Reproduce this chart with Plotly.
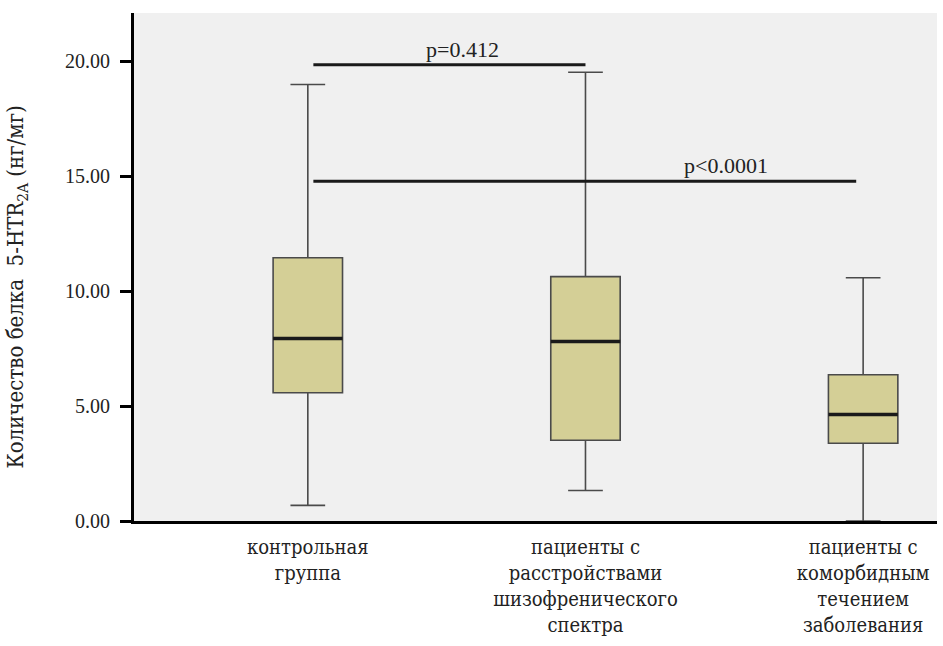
import plotly.graph_objects as go

categories = ["контрольная<br>группа",
              "пациенты с<br>расстройствами<br>шизофренического<br>спектра",
              "пациенты с<br>коморбидным<br>течением<br>заболевания"]
lowerfence = [0.68, 1.33, 0.0]
q1 = [5.58, 3.51, 3.38]
median = [7.94, 7.81, 4.63]
q3 = [11.45, 10.63, 6.36]
upperfence = [18.99, 19.52, 10.58]

yticks = [0, 5, 10, 15, 20]
brackets = [  # (from category index, to category index, y, label, label x)
    (0.02, 1.0, 19.85, "p=0.412", 0.557),
    (0.02, 1.975, 14.78, "p&lt;0.0001", 1.507),
]

FONT = "Liberation Serif"
CYR = "'DejaVu Serif Condensed', 'DejaVu Serif'"
BOXW = 0.25

fig = go.Figure()
fig.add_trace(go.Box(
    x=categories, q1=q1, median=median, q3=q3,
    lowerfence=lowerfence, upperfence=upperfence,
    width=BOXW, whiskerwidth=0.5,
    fillcolor="#d4cf96",
    line=dict(color="#4a4a4a", width=1.6),
    boxpoints=False, hoverinfo="skip", showlegend=False,
))

shapes = []
for i, m in enumerate(median):
    shapes.append(dict(type="line", xref="x", yref="y",
                       x0=i - BOXW / 2, x1=i + BOXW / 2, y0=m, y1=m,
                       line=dict(color="#1a1a1a", width=3.5)))
annotations = []
for x0, x1, y, label, lx in brackets:
    shapes.append(dict(type="line", xref="x", yref="y",
                       x0=x0, x1=x1, y0=y, y1=y,
                       line=dict(color="#1a1a1a", width=3)))
    annotations.append(dict(x=lx, y=y, xref="x", yref="y", text=label,
                            showarrow=False, yanchor="bottom", yshift=1,
                            font=dict(family=FONT, size=22, color="#222222")))

annotations.append(dict(x=-0.1445, y=0.4616, xref="paper", yref="paper",
                        text="Количество белка\u00a0 5-HTR<sub>2A</sub> (нг/мг)",
                        textangle=-90, showarrow=False,
                        xanchor="center", yanchor="middle",
                        font=dict(family=CYR, size=22, color="#222222")))

fig.update_layout(
    width=943, height=646,
    margin=dict(l=134, r=6, t=13, b=125),
    paper_bgcolor="white", plot_bgcolor="#f0f0f0",
    font=dict(family=FONT, size=20, color="#222222"),
    shapes=shapes, annotations=annotations,
)
fig.update_xaxes(
    type="category", range=[-0.626, 2.266],
    showline=True, linecolor="black", linewidth=3,
    ticks="", showgrid=False, zeroline=False,
    tickfont=dict(family=CYR, size=20, color="#222222"),
    ticklabelstandoff=6,
)
fig.update_yaxes(
    range=[0, 22.1], tickvals=yticks,
    ticktext=[f"{v:.2f}" for v in yticks],
    showline=True, linecolor="black", linewidth=3,
    ticks="outside", ticklen=11, tickwidth=2.5, tickcolor="black",
    showgrid=False, zeroline=False,
    tickfont=dict(family=FONT, size=20, color="#222222"),
    ticklabelstandoff=6,
)

fig.write_html("out.html")
